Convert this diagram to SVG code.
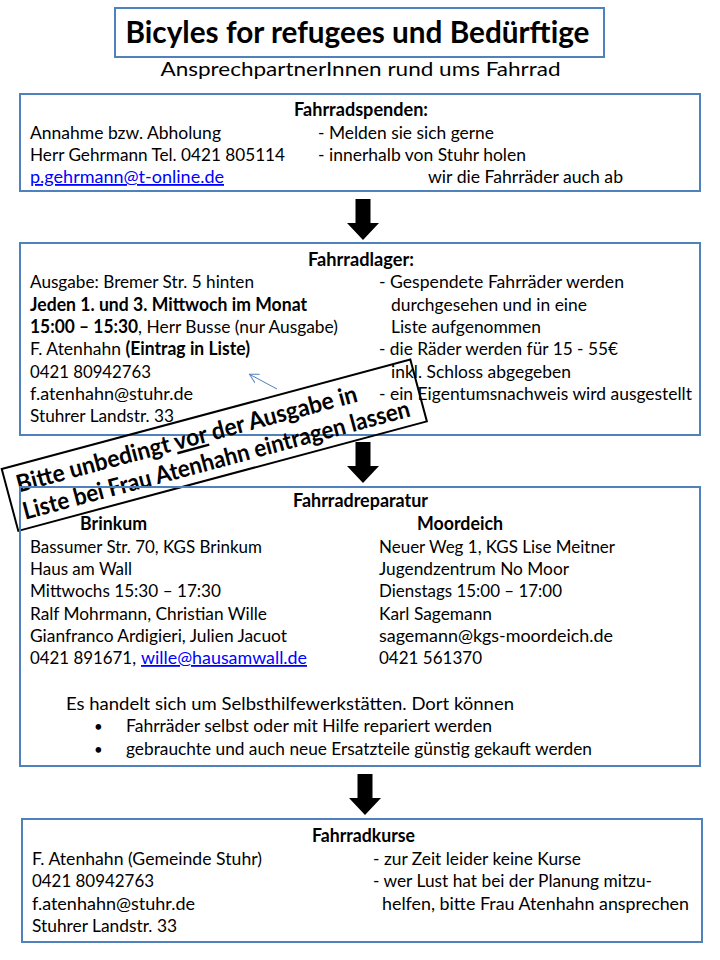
<svg xmlns="http://www.w3.org/2000/svg" width="720" height="960" viewBox="0 0 720 960">
<style>
.bx{fill:none;stroke:#4F81BD;stroke-width:2}
.t{font-family:Lato,"Open Sans","Liberation Sans",sans-serif;font-size:18px;fill:#000}
.b{font-weight:bold}
.lk{fill:#0000FF;text-decoration:underline}
</style>
<defs>
<path id="blk" d="M-7.5,0 H7.5 V24 H16 L0,41 L-16,24 H-7.5 Z" fill="#000"/>
<marker id="open" viewBox="0 0 10 10" refX="9" refY="5" markerWidth="10" markerHeight="10" orient="auto" markerUnits="userSpaceOnUse">
<path d="M0,0 L9,5 L0,10" fill="none" stroke="#4F81BD" stroke-width="1"/>
</marker>
</defs>
<rect width="720" height="960" fill="#fff"/>

<g id="title">
<rect class="bx" x="115" y="8" width="489" height="49"/>
<text class="t b" x="125.5" y="43" style="font-size:30px" textLength="464" lengthAdjust="spacingAndGlyphs">Bicyles for refugees und Bedürftige</text>
<text class="t" x="160.5" y="76" style="font-size:19px" textLength="400" lengthAdjust="spacingAndGlyphs">AnsprechpartnerInnen rund ums Fahrrad</text>
</g>

<g id="fahrradspenden">
<rect class="bx" x="20" y="94" width="680" height="97"/>
<text class="t b" x="294" y="116" textLength="134" lengthAdjust="spacingAndGlyphs">Fahrradspenden:</text>
<text class="t" x="30" y="139" textLength="191" lengthAdjust="spacingAndGlyphs">Annahme bzw. Abholung</text>
<text class="t" x="318" y="139" textLength="176" lengthAdjust="spacingAndGlyphs">- Melden sie sich gerne</text>
<text class="t" x="30" y="161" textLength="255" lengthAdjust="spacingAndGlyphs">Herr Gehrmann Tel. 0421 805114</text>
<text class="t" x="318" y="161" textLength="208" lengthAdjust="spacingAndGlyphs">- innerhalb von Stuhr holen</text>
<text class="t lk" x="30" y="183" textLength="194" lengthAdjust="spacingAndGlyphs">p.gehrmann@t-online.de</text>
<text class="t" x="428" y="183" textLength="195" lengthAdjust="spacingAndGlyphs">wir die Fahrräder auch ab</text>
</g>

<g id="fahrradlager">
<rect class="bx" x="20" y="243" width="680" height="192"/>
<text class="t b" x="308" y="266" textLength="106" lengthAdjust="spacingAndGlyphs">Fahrradlager:</text>
<text class="t" x="30" y="288" textLength="224" lengthAdjust="spacingAndGlyphs">Ausgabe: Bremer Str. 5 hinten</text>
<text class="t b" x="30" y="310.5" textLength="277" lengthAdjust="spacingAndGlyphs">Jeden 1. und 3. Mittwoch im Monat</text>
<text class="t" x="30" y="333" textLength="308" lengthAdjust="spacingAndGlyphs"><tspan class="b">15:00 – 15:30</tspan>, Herr Busse (nur Ausgabe)</text>
<text class="t" x="30" y="355" textLength="220" lengthAdjust="spacingAndGlyphs">F. Atenhahn <tspan class="b">(Eintrag in Liste)</tspan></text>
<text class="t" x="30" y="377.5" textLength="121" lengthAdjust="spacingAndGlyphs">0421 80942763</text>
<text class="t" x="30" y="400" textLength="163" lengthAdjust="spacingAndGlyphs">f.atenhahn@stuhr.de</text>
<text class="t" x="30" y="422" textLength="144" lengthAdjust="spacingAndGlyphs">Stuhrer Landstr. 33</text>
<text class="t" x="379" y="288" textLength="245" lengthAdjust="spacingAndGlyphs">- Gespendete Fahrräder werden</text>
<text class="t" x="391" y="310.5" textLength="196" lengthAdjust="spacingAndGlyphs">durchgesehen und in eine</text>
<text class="t" x="391" y="333" textLength="150" lengthAdjust="spacingAndGlyphs">Liste aufgenommen</text>
<text class="t" x="379" y="355" textLength="239" lengthAdjust="spacingAndGlyphs">- die Räder werden für 15 - 55€</text>
<text class="t" x="391" y="377.5" textLength="180" lengthAdjust="spacingAndGlyphs">inkl. Schloss abgegeben</text>
<text class="t" x="379" y="400" textLength="313" lengthAdjust="spacingAndGlyphs">- ein Eigentumsnachweis wird ausgestellt</text>
</g>

<g id="hinweis" transform="translate(214.3,445.2) rotate(-15)">
<rect x="-211.5" y="-32" width="423" height="64" fill="none" stroke="#000" stroke-width="2"/>
<text class="t b" x="-201" y="-5" style="font-size:24px" textLength="352" lengthAdjust="spacingAndGlyphs">Bitte unbedingt <tspan text-decoration="underline">vor</tspan> der Ausgabe in</text>
<text class="t b" x="-202" y="23" style="font-size:24px" textLength="400" lengthAdjust="spacingAndGlyphs">Liste bei Frau Atenhahn eintragen lassen</text>
</g>

<g id="fahrradreparatur">
<rect class="bx" x="20" y="487" width="680" height="279"/>
<text class="t b" x="293" y="507" textLength="135" lengthAdjust="spacingAndGlyphs">Fahrradreparatur</text>
<text class="t b" x="80" y="530" textLength="67" lengthAdjust="spacingAndGlyphs">Brinkum</text>
<text class="t b" x="417" y="530" textLength="86" lengthAdjust="spacingAndGlyphs">Moordeich</text>
<text class="t" x="30" y="553" textLength="232" lengthAdjust="spacingAndGlyphs">Bassumer Str. 70, KGS Brinkum</text>
<text class="t" x="30" y="575" textLength="102" lengthAdjust="spacingAndGlyphs">Haus am Wall</text>
<text class="t" x="30" y="597" textLength="191" lengthAdjust="spacingAndGlyphs">Mittwochs 15:30 – 17:30</text>
<text class="t" x="30" y="619.5" textLength="237" lengthAdjust="spacingAndGlyphs">Ralf Mohrmann, Christian Wille</text>
<text class="t" x="30" y="642" textLength="257" lengthAdjust="spacingAndGlyphs">Gianfranco Ardigieri, Julien Jacuot</text>
<text class="t" x="30" y="664" textLength="106" lengthAdjust="spacingAndGlyphs">0421 891671,</text>
<text class="t lk" x="141" y="664" textLength="166" lengthAdjust="spacingAndGlyphs">wille@hausamwall.de</text>
<text class="t" x="379" y="553" textLength="236" lengthAdjust="spacingAndGlyphs">Neuer Weg 1, KGS Lise Meitner</text>
<text class="t" x="379" y="575" textLength="190" lengthAdjust="spacingAndGlyphs">Jugendzentrum No Moor</text>
<text class="t" x="379" y="597" textLength="183" lengthAdjust="spacingAndGlyphs">Dienstags 15:00 – 17:00</text>
<text class="t" x="379" y="619.5" textLength="113" lengthAdjust="spacingAndGlyphs">Karl Sagemann</text>
<text class="t" x="379" y="642" textLength="234" lengthAdjust="spacingAndGlyphs">sagemann@kgs-moordeich.de</text>
<text class="t" x="379" y="664" textLength="103" lengthAdjust="spacingAndGlyphs">0421 561370</text>
<text class="t" x="66" y="710" textLength="448" lengthAdjust="spacingAndGlyphs">Es handelt sich um Selbsthilfewerkstätten. Dort können</text>
<text class="t" x="94" y="732" style="font-size:15px">•</text>
<text class="t" x="126" y="732" textLength="366" lengthAdjust="spacingAndGlyphs">Fahrräder selbst oder mit Hilfe repariert werden</text>
<text class="t" x="94" y="755" style="font-size:15px">•</text>
<text class="t" x="126" y="755" textLength="466" lengthAdjust="spacingAndGlyphs">gebrauchte und auch neue Ersatzteile günstig gekauft werden</text>
</g>

<g id="fahrradkurse">
<rect class="bx" x="22" y="819" width="680" height="123"/>
<text class="t b" x="312" y="842" textLength="103" lengthAdjust="spacingAndGlyphs">Fahrradkurse</text>
<text class="t" x="32" y="865" textLength="230" lengthAdjust="spacingAndGlyphs">F. Atenhahn (Gemeinde Stuhr)</text>
<text class="t" x="32" y="887" textLength="122" lengthAdjust="spacingAndGlyphs">0421 80942763</text>
<text class="t" x="32" y="909.5" textLength="163" lengthAdjust="spacingAndGlyphs">f.atenhahn@stuhr.de</text>
<text class="t" x="32" y="932" textLength="145" lengthAdjust="spacingAndGlyphs">Stuhrer Landstr. 33</text>
<text class="t" x="373" y="865" textLength="208" lengthAdjust="spacingAndGlyphs">- zur Zeit leider keine Kurse</text>
<text class="t" x="373" y="887" textLength="279" lengthAdjust="spacingAndGlyphs">- wer Lust hat bei der Planung mitzu-</text>
<text class="t" x="382" y="909.5" textLength="307" lengthAdjust="spacingAndGlyphs">helfen, bitte Frau Atenhahn  ansprechen</text>
</g>

<g id="connectors">
<use href="#blk" x="363" y="199"/>
<use href="#blk" x="363" y="442"/>
<use href="#blk" x="365" y="774"/>
<line x1="277" y1="389" x2="249.5" y2="374.3" stroke="#4F81BD" stroke-width="1" marker-end="url(#open)"/>
</g>
</svg>
